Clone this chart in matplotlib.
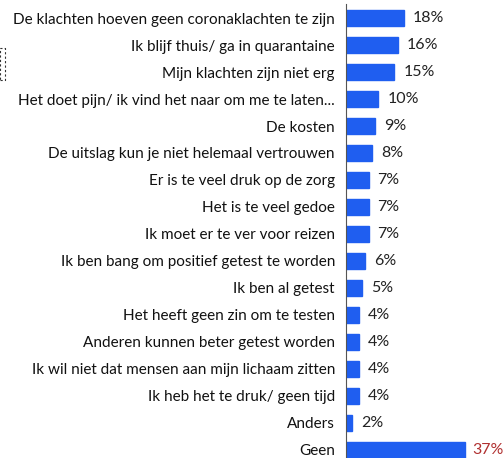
import matplotlib
matplotlib.use("Agg")
import matplotlib.pyplot as plt
from matplotlib.patches import Rectangle

labels = [
    "De klachten hoeven geen coronaklachten te zijn",
    "Ik blijf thuis/ ga in quarantaine",
    "Mijn klachten zijn niet erg",
    "Het doet pijn/ ik vind het naar om me te laten...",
    "De kosten",
    "De uitslag kun je niet helemaal vertrouwen",
    "Er is te veel druk op de zorg",
    "Het is te veel gedoe",
    "Ik moet er te ver voor reizen",
    "Ik ben bang om positief getest te worden",
    "Ik ben al getest",
    "Het heeft geen zin om te testen",
    "Anderen kunnen beter getest worden",
    "Ik wil niet dat mensen aan mijn lichaam zitten",
    "Ik heb het te druk/ geen tijd",
    "Anders",
    "Geen",
]
values = [18, 16, 15, 10, 9, 8, 7, 7, 7, 6, 5, 4, 4, 4, 4, 2, 37]

plt.rcParams["font.family"] = ["Lato", "DejaVu Sans"]

W, H = 504, 458
fig = plt.figure(figsize=(W / 100, H / 100), dpi=100)
ax = fig.add_axes([346 / W, 0, (W - 346) / W, (H - 4) / H])

pos = list(range(len(values)))
ax.barh(pos, values, height=0.6, color="#1f5ef0", edgecolor="#1f5ef0")
ax.set_xlim(0, (W - 346) / 3.22)
ax.set_ylim(16.3, -0.52)

for i, v in enumerate(values):
    col = "#b03030" if labels[i] == "Geen" else "#222222"
    ax.text(v + 2.8 if v < 30 else v + 2.3, i, f"{v}%", va="center", ha="left",
            fontsize=11.5, color=col)

ax.set_yticks(pos)
ax.set_yticklabels(labels, fontsize=11, color="#111111")
ax.tick_params(axis="y", length=0, pad=8)
ax.set_xticks([])
for s in ["top", "right", "bottom"]:
    ax.spines[s].set_visible(False)
ax.spines["left"].set_color("#555555")
ax.spines["left"].set_linewidth(0.8)

# small dashed marker at the left edge
fig.patches.append(Rectangle((0 / W, 1 - 80 / H), 5 / W, 32 / H, transform=fig.transFigure,
                             fill=False, linestyle=(0, (2, 2)), edgecolor="#333333", linewidth=0.8))

fig.savefig("out.png", dpi=100)
